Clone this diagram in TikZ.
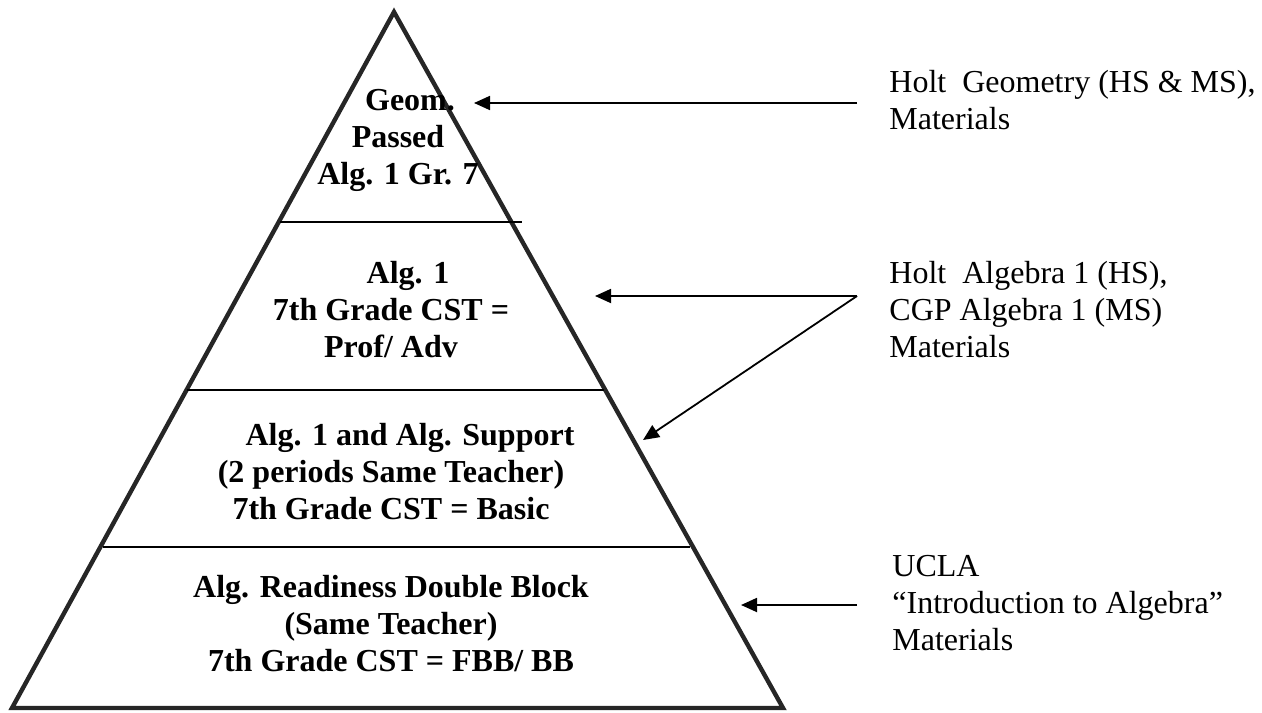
\documentclass[tikz,border=0pt]{standalone}
\usepackage{fontspec}
\setmainfont{Liberation Serif}
\usetikzlibrary{arrows.meta}
\begin{document}
\begin{tikzpicture}[x=0.5pt, y=-0.5pt, line join=miter,
    tier/.style={font=\bfseries\fontsize{16}{18.5}\selectfont, align=center, inner sep=0pt},
    source/.style={font=\fontsize{16}{18.5}\selectfont, align=left, anchor=west, inner sep=0pt},
    pointer/.style={line width=0.9pt, -{Triangle[length=8pt, width=7pt]}}]

    % page frame
    \useasboundingbox (0,0) rectangle (1262,712);

    % Pyramid outline
    \coordinate (apex) at (394,12);
    \coordinate (baseL) at (12,708);
    \coordinate (baseR) at (783,708);
    \draw[line width=2.2pt, black!85] (apex) -- (baseR) -- (baseL) -- cycle;

    % Tier dividers
    \foreach \y/\xl/\xr in {222/280/522, 390/187/604, 547/103/690} {
        \draw[line width=0.9pt] (\xl,\y) -- (\xr,\y);
    }

    % Tier labels
    \node[tier] (geom) at (398,140) {\hspace*{12pt}Geom.\\Passed\\Alg. 1 Gr. 7};
    \node[tier] (algone) at (391,310) {\hspace*{17pt}Alg. 1\\7th Grade CST =\\Prof/ Adv};
    \node[tier] (support) at (391,472) {\hspace*{19pt}Alg. 1 and Alg. Support\\(2 periods Same Teacher)\\7th Grade CST = Basic};
    \node[tier] (readiness) at (391,624) {Alg. Readiness Double Block\\(Same Teacher)\\7th Grade CST = FBB/ BB};

    % Materials
    \node[source] (geosrc) at (889,100) {Holt\ \ Geometry (HS \& MS),\\Materials};
    \node[source] (algsrc) at (889,310) {Holt\ \ Algebra 1 (HS),\\CGP Algebra 1 (MS)\\Materials};
    \node[source] (uclasrc) at (892,603) {UCLA\\``Introduction to Algebra''\\Materials};

    % Arrow ends
    \coordinate (geotail) at (857,103);
    \coordinate (geotip) at (474,103);
    \coordinate (algtail) at (857,296);
    \coordinate (algtip) at (595,296);
    \coordinate (supptip) at (643,440);
    \coordinate (uclatail) at (857,605);
    \coordinate (uclatip) at (741,605);

    % Pointers
    \draw[pointer] (geotail) -- (geotip);
    \draw[pointer] (algtail) -- (algtip);
    \draw[pointer] (algtail) -- (supptip);
    \draw[pointer] (uclatail) -- (uclatip);
\end{tikzpicture}
\end{document}
